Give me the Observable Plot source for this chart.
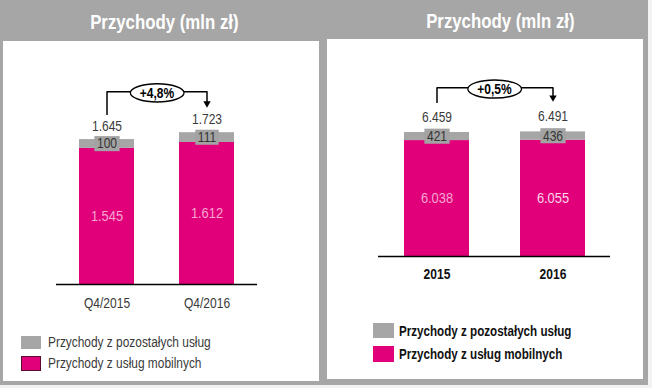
<!DOCTYPE html>
<html><head><meta charset="utf-8">
<script src="https://cdn.jsdelivr.net/npm/d3@7"></script>
<script src="https://cdn.jsdelivr.net/npm/@observablehq/plot@0.6"></script>
<style>
body{margin:0;width:652px;height:388px;background:#f2f2f2;position:relative;overflow:hidden;font-family:"Liberation Sans",Arial,sans-serif}
#frame{position:absolute;left:0;top:0;width:648px;height:385px;background:#a6a6a6}
.panel{position:absolute;background:#fff}
.title{position:absolute;color:#fff;font-weight:bold;font-size:20px;text-align:center;line-height:24px}
.title span{display:inline-block;transform:scaleX(0.84)}
.chart{position:absolute}
.lg{position:absolute;font-size:14px;line-height:18px;color:#3a3a3a;white-space:nowrap;transform-origin:left center}
.sw{position:absolute}
</style></head>
<body>
<div id="frame"></div>
<div class="panel" style="left:3px;top:41px;width:316px;height:340px"></div>
<div class="panel" style="left:327px;top:39px;width:316px;height:340px"></div>
<div class="title" style="left:0px;top:10px;width:328px"><span>Przychody (mln zł)</span></div>
<div class="title" style="left:352px;top:9px;width:296px"><span>Przychody (mln zł)</span></div>
<div id="left" class="chart" style="left:3px;top:41px"></div>
<div id="right" class="chart" style="left:327px;top:39px"></div>
<div id="legends"></div>
<script>
// ---- data ----
const seriesNames = ["Przychody z usług mobilnych", "Przychody z pozostałych usług"];
const seriesColors = ["#e2007a", "#a6a6a6"];
const quarters = ["Q4/2015", "Q4/2016"];
const quarterMobile = [1545, 1612];
const quarterOther = [100, 111];
const quarterChange = "+4,8%";
const years = ["2015", "2016"];
const yearMobile = [6038, 6055];
const yearOther = [421, 436];
const yearChange = "+0,5%";

const pl = d3.formatLocale({decimal: ",", thousands: ".", grouping: [3], currency: ["", ""]});
const fmt = pl.format(",");
const FONT = '"Liberation Sans",Arial,sans-serif';
const SX = 0.86; // horizontal condensing of the text

function buildRows(cats, mobile, other) {
  const rows = [];
  cats.forEach((c, i) => {
    const vals = [mobile[i], other[i]];
    let acc = 0;
    vals.forEach((v, k) => {
      rows.push({cat: c, series: seriesNames[k], value: v, y1: acc, y2: acc + v, mid: acc + v / 2, k, i});
      acc += v;
    });
  });
  return rows;
}

const tagged = (tag) => (index, scales, values, dims, ctx, next) => {
  const g = next(index, scales, values, dims, ctx);
  g.setAttribute("data-shape", tag);
  return g;
};

function condense(svg) {
  svg.querySelectorAll("text").forEach(t => {
    const tr = t.getAttribute("transform");
    if (tr) {
      t.setAttribute("transform", tr + ` scale(${SX},1)`);
    } else {
      const x = +t.getAttribute("x") || 0, y = +t.getAttribute("y") || 0;
      t.setAttribute("x", 0); t.setAttribute("y", 0);
      t.setAttribute("transform", `translate(${x},${y}) scale(${SX},1)`);
    }
  });
}

function addShapes(svg) {
  const NS = "http://www.w3.org/2000/svg";
  svg.querySelectorAll("g[data-shape]").forEach(g => {
    const kind = g.getAttribute("data-shape");
    g.querySelectorAll("text").forEach(t => {
      const b = t.getBBox();
      let el;
      if (kind === "box") {
        el = document.createElementNS(NS, "rect");
        el.setAttribute("x", b.x - 3);
        el.setAttribute("y", b.y + 0.5);
        el.setAttribute("width", b.width + 6);
        el.setAttribute("height", b.height - 1);
        el.setAttribute("fill", "#a3a3a3");
        el.setAttribute("stroke", "none");
      } else {
        el = document.createElementNS(NS, "ellipse");
        el.setAttribute("cx", b.x + b.width / 2);
        el.setAttribute("cy", b.y + b.height / 2);
        el.setAttribute("rx", b.width / 2 + 11);
        el.setAttribute("ry", b.height / 2 + 1);
        el.setAttribute("fill", "#fff");
        el.setAttribute("stroke", "#000");
        el.setAttribute("stroke-width", 1.5);
      }
      const tr = t.getAttribute("transform");
      if (tr) el.setAttribute("transform", tr);
      t.parentNode.insertBefore(el, t);
    });
  });
}

function panel(el, cats, mobile, other, change, o) {
  const rows = buildRows(cats, mobile, other);
  const totals = cats.map((c, i) => mobile[i] + other[i]);
  const maxTotal = d3.max(totals);
  const top = rows.filter(r => r.k === 1);
  const bottom = rows.filter(r => r.k === 0);
  const s = o.arrowR * Math.sqrt(Math.PI) * 0.6824;
  const plot = Plot.plot({
    width: o.width, height: o.height,
    marginLeft: o.ml, marginRight: o.mr, marginTop: 0, marginBottom: o.mb,
    x: {domain: cats, paddingInner: o.pad, paddingOuter: o.pad / 2, label: null},
    y: {domain: [0, o.yMax], axis: null},
    color: {domain: seriesNames, range: seriesColors},
    style: {background: "transparent", fontFamily: FONT, color: "#3a3a3a", overflow: "visible"},
    marks: [
      Plot.barY(rows, {x: "cat", y1: "y1", y2: "y2", fill: "series"}),
      Plot.ruleY([0], {stroke: "#000", strokeWidth: 1.5}),
      Plot.axisX({tickSize: 0, tickPadding: o.tickPad, fontSize: 14, fontWeight: o.catWeight, fill: o.catColor, label: null}),
      Plot.text(bottom, {x: "cat", y: "mid", text: d => fmt(d.value), fill: (d) => o.pinkText[d.i], fontSize: 15, fontWeight: (d) => o.pinkWeight[d.i], fontFamily: FONT}),
      Plot.text(top, {x: "cat", y: "mid", text: d => fmt(d.value), fill: "#333", fontSize: 14, fontFamily: FONT, render: tagged("box")}),
      Plot.text(cats, {x: d => d, y: (d, i) => totals[i], text: (d, i) => fmt(totals[i]), dy: o.totalDy, fill: "#3a3a3a", fontSize: 14, fontFamily: FONT}),
      // change bracket
      Plot.ruleX([cats[0]], {x: d => d, y1: () => maxTotal, y2: () => totals[0], insetTop: -o.bracket, insetBottom: o.leftEnd, stroke: "#000", strokeWidth: 1.5}),
      Plot.ruleX([cats[1]], {x: d => d, y1: () => maxTotal, y2: () => totals[1], insetTop: -o.bracket, insetBottom: o.tip + 3, stroke: "#000", strokeWidth: 1.5}),
      Plot.link([change], {x1: () => cats[0], x2: () => cats[1], y1: () => maxTotal, y2: () => maxTotal, dy: -o.bracket, stroke: "#000", strokeWidth: 1.5}),
      Plot.dot([cats[1]], {x: d => d, y: () => totals[1], dy: -(o.tip + s), symbol: "triangle2", rotate: 180, r: o.arrowR, fill: "#000", stroke: "none"}),
      Plot.text([change], {y: () => maxTotal, dy: -o.bracket + 1.5, text: d => d, fontSize: 14, fontWeight: "bold", fill: "#000", fontFamily: FONT, render: tagged("ellipse")})
    ]
  });
  document.getElementById(el).appendChild(plot);
  condense(plot);
  addShapes(plot);
}

panel("left", quarters, quarterMobile, quarterOther, quarterChange, {
  width: 316, height: 279, ml: 53, mr: 62, mb: 36, yMax: 2758, pad: 0.45,
  tickPad: 14, catWeight: "normal", catColor: "#3a3a3a",
  pinkText: ["#f7a6d2", "#f7a6d2"], pinkWeight: ["normal", "normal"],
  totalDy: -13, bracket: 41, leftEnd: 24, tip: 25, arrowR: 3.5
});
panel("right", years, yearMobile, yearOther, yearChange, {
  width: 316, height: 255, ml: 51, mr: 33, mb: 38, yMax: 11302, pad: 0.44,
  tickPad: 13, catWeight: "bold", catColor: "#111",
  pinkText: ["#f7a6d2", "#fcd6ea"], pinkWeight: ["normal", "bold"],
  totalDy: -15, bracket: 44, leftEnd: 29, tip: 30, arrowR: 3.5
});

// ---- legends ----
const legendSpecs = [
  {x: 21, sw: [[336, 13], [356, 15]], tx: 48, ty: [342, 363], bold: false, w: 20, border: true, sx: 0.85},
  {x: 373, sw: [[323, 15], [346, 16]], tx: 399, ty: [331, 354], bold: true, w: 21, border: false, sx: 0.83}
];
const legendOrder = [1, 0];
const L = document.getElementById("legends");
legendSpecs.forEach(sp => {
  legendOrder.forEach((k, j) => {
    const sw = document.createElement("div");
    sw.className = "sw";
    sw.style.cssText = `left:${sp.x}px;top:${sp.sw[j][0]}px;width:${sp.w}px;height:${sp.sw[j][1]}px;background:${seriesColors[k]};box-sizing:border-box;` + (sp.border && k === 0 ? "border:1.5px solid #5a0b30;" : "");
    L.appendChild(sw);
    const t = document.createElement("div");
    t.className = "lg";
    t.textContent = seriesNames[k];
    t.style.cssText = `left:${sp.tx}px;top:${sp.ty[j] - 9}px;transform:scaleX(${sp.sx});font-weight:${sp.bold ? "bold" : "normal"};color:${sp.bold ? "#111" : "#3a3a3a"}`;
    L.appendChild(t);
  });
});
</script>
</body></html>
